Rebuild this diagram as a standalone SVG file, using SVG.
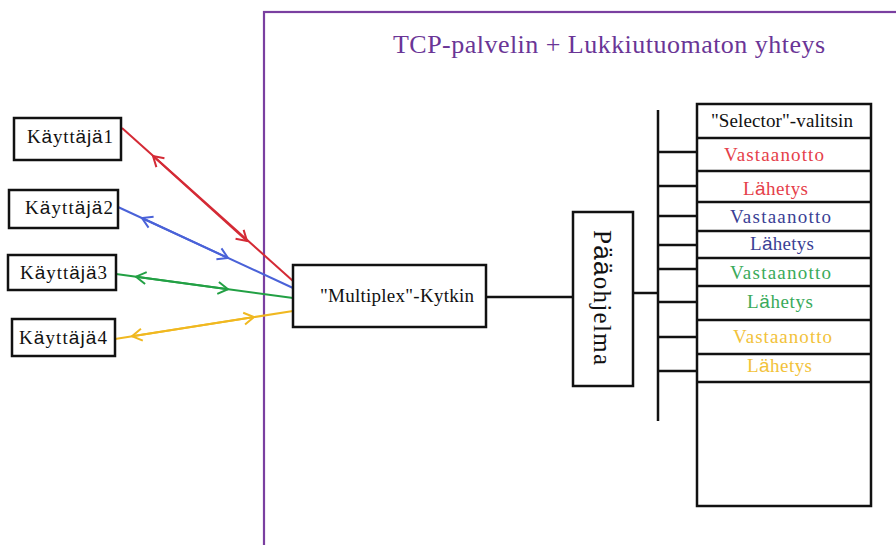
<svg xmlns="http://www.w3.org/2000/svg" width="896" height="545" viewBox="0 0 896 545">
  <defs>
    <marker id="hr" viewBox="-12 -8 14 16" refX="0" refY="0" markerWidth="14" markerHeight="16" markerUnits="userSpaceOnUse" orient="auto-start-reverse">
      <path d="M -10 -6 L 0 0 L -10 6" fill="none" stroke="#d42a35" stroke-width="2"/>
    </marker>
    <marker id="hb" viewBox="-12 -8 14 16" refX="0" refY="0" markerWidth="14" markerHeight="16" markerUnits="userSpaceOnUse" orient="auto-start-reverse">
      <path d="M -10 -6 L 0 0 L -10 6" fill="none" stroke="#4a62d8" stroke-width="2"/>
    </marker>
    <marker id="hg" viewBox="-12 -8 14 16" refX="0" refY="0" markerWidth="14" markerHeight="16" markerUnits="userSpaceOnUse" orient="auto-start-reverse">
      <path d="M -10 -6 L 0 0 L -10 6" fill="none" stroke="#22a044" stroke-width="2"/>
    </marker>
    <marker id="hy" viewBox="-12 -8 14 16" refX="0" refY="0" markerWidth="14" markerHeight="16" markerUnits="userSpaceOnUse" orient="auto-start-reverse">
      <path d="M -10 -6 L 0 0 L -10 6" fill="none" stroke="#f0b820" stroke-width="2"/>
    </marker>
  </defs>
  <style>
    .box { fill: #ffffff; stroke: #111111; stroke-width: 2.5; }
    .bar { stroke: #111111; stroke-width: 2.5; fill: none; }
    .wire { fill: none; stroke-width: 2; }
  </style>

  <rect width="896" height="545" fill="#ffffff"/>

  <!-- server frame -->
  <g id="server">
    <rect x="264" y="12" width="660" height="560" fill="none" stroke="#7a3fa0" stroke-width="2.2"/>
    <text x="393" y="53" font-family="'Liberation Serif', 'DejaVu Serif', serif" font-size="26" fill="#6a3596" textLength="432">TCP-palvelin + Lukkiutuomaton yhteys</text>
  </g>

  <!-- connectors -->
  <g id="connectors">
    <line class="wire" stroke="#d42a35" x1="122" y1="128" x2="293" y2="281"/>
    <path class="wire" stroke="#d42a35" d="M 153 156 L 247 241" marker-start="url(#hr)" marker-end="url(#hr)"/>

    <line class="wire" stroke="#4a62d8" x1="118" y1="207" x2="293" y2="288"/>
    <path class="wire" stroke="#4a62d8" d="M 142 218 L 228 258" marker-start="url(#hb)" marker-end="url(#hb)"/>

    <line class="wire" stroke="#22a044" x1="116" y1="274" x2="293" y2="298"/>
    <path class="wire" stroke="#22a044" d="M 136 276.7 L 228 289.2" marker-start="url(#hg)" marker-end="url(#hg)"/>

    <line class="wire" stroke="#f0b820" x1="115" y1="339" x2="293" y2="311"/>
    <path class="wire" stroke="#f0b820" d="M 132 336.3 L 254 317.1" marker-start="url(#hy)" marker-end="url(#hy)"/>

    <line class="bar" x1="486" y1="297" x2="573" y2="297"/>
    <line class="bar" x1="633" y1="293" x2="658" y2="293"/>
    <line class="bar" x1="658" y1="110" x2="658" y2="421"/>
    <line class="bar" x1="658" y1="152" x2="697" y2="152"/>
    <line class="bar" x1="658" y1="186" x2="697" y2="186"/>
    <line class="bar" x1="658" y1="216" x2="697" y2="216"/>
    <line class="bar" x1="658" y1="245" x2="697" y2="245"/>
    <line class="bar" x1="658" y1="269" x2="697" y2="269"/>
    <line class="bar" x1="658" y1="302" x2="697" y2="302"/>
    <line class="bar" x1="658" y1="337" x2="697" y2="337"/>
    <line class="bar" x1="658" y1="371" x2="697" y2="371"/>
  </g>

  <!-- clients -->
  <g id="user1">
    <rect class="box" x="14" y="118" width="107" height="42"/>
    <text x="27" y="143" font-family="'Liberation Serif', serif" font-size="19" fill="#111111" textLength="86">K<tspan font-family="'Liberation Sans', sans-serif" font-size="19">ä</tspan>ytt<tspan font-family="'Liberation Sans', sans-serif" font-size="19">äjä</tspan>1</text>
  </g>
  <g id="user2">
    <rect class="box" x="9" y="190" width="109" height="38"/>
    <text x="25" y="214" font-family="'Liberation Serif', serif" font-size="19" fill="#111111" textLength="88">K<tspan font-family="'Liberation Sans', sans-serif" font-size="19">ä</tspan>ytt<tspan font-family="'Liberation Sans', sans-serif" font-size="19">äjä</tspan>2</text>
  </g>
  <g id="user3">
    <rect class="box" x="8" y="255" width="108" height="35"/>
    <text x="20" y="279" font-family="'Liberation Serif', serif" font-size="19" fill="#111111" textLength="87">K<tspan font-family="'Liberation Sans', sans-serif" font-size="19">ä</tspan>ytt<tspan font-family="'Liberation Sans', sans-serif" font-size="19">äjä</tspan>3</text>
  </g>
  <g id="user4">
    <rect class="box" x="12" y="319" width="103" height="37"/>
    <text x="19" y="344" font-family="'Liberation Serif', serif" font-size="19" fill="#111111" textLength="88">K<tspan font-family="'Liberation Sans', sans-serif" font-size="19">ä</tspan>ytt<tspan font-family="'Liberation Sans', sans-serif" font-size="19">äjä</tspan>4</text>
  </g>

  <!-- switch -->
  <g id="multiplex">
    <rect class="box" x="293" y="265" width="193" height="62"/>
    <text x="320" y="302" font-family="'Liberation Serif', serif" font-size="19" fill="#111111" textLength="154">"Multiplex"-Kytkin</text>
  </g>

  <!-- main program, label reads top to bottom -->
  <g id="paaohjelma">
    <rect class="box" x="573" y="212" width="60" height="174"/>
    <text transform="translate(594,230) rotate(90)" font-family="'Liberation Serif', serif" font-size="25" fill="#111111" textLength="135">P<tspan font-family="'Liberation Sans', sans-serif" font-size="26">ää</tspan>ohjelma</text>
  </g>

  <!-- selector table -->
  <g id="selector" font-family="'Liberation Serif', serif" font-size="19">
    <rect class="box" x="697" y="104" width="174" height="402"/>
    <line class="bar" x1="697" y1="138" x2="871" y2="138"/>
    <line class="bar" x1="697" y1="171" x2="871" y2="171"/>
    <line class="bar" x1="697" y1="202" x2="871" y2="202"/>
    <line class="bar" x1="697" y1="231" x2="871" y2="231"/>
    <line class="bar" x1="697" y1="258" x2="871" y2="258"/>
    <line class="bar" x1="697" y1="286" x2="871" y2="286"/>
    <line class="bar" x1="697" y1="320" x2="871" y2="320"/>
    <line class="bar" x1="697" y1="354" x2="871" y2="354"/>
    <line class="bar" x1="697" y1="382" x2="871" y2="382"/>
    <text x="711" y="127" fill="#111111" textLength="142">"Selector"-valitsin</text>
    <text x="724" y="161" fill="#e5404a" textLength="100">Vastaanotto</text>
    <text x="743" y="195" fill="#e5404a" textLength="65">L<tspan font-family="'Liberation Sans', sans-serif" font-size="19">ä</tspan>hetys</text>
    <text x="730" y="223" fill="#3a3f95" textLength="101">Vastaanotto</text>
    <text x="750" y="250" fill="#3a3f95" textLength="64">L<tspan font-family="'Liberation Sans', sans-serif" font-size="19">ä</tspan>hetys</text>
    <text x="730" y="279" fill="#3aaa5a" textLength="101">Vastaanotto</text>
    <text x="747" y="308" fill="#3aaa5a" textLength="66">L<tspan font-family="'Liberation Sans', sans-serif" font-size="19">ä</tspan>hetys</text>
    <text x="733" y="343" fill="#f2c23a" textLength="99">Vastaanotto</text>
    <text x="747" y="372" fill="#f2c23a" textLength="65">L<tspan font-family="'Liberation Sans', sans-serif" font-size="19">ä</tspan>hetys</text>
  </g>
</svg>
